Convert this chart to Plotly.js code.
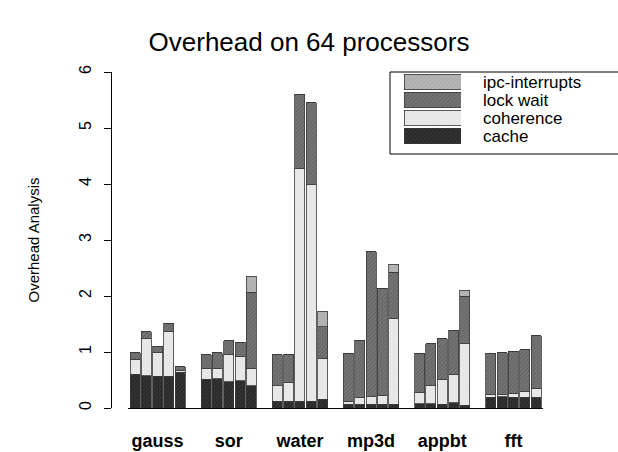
<!DOCTYPE html>
<html>
<head>
<meta charset="utf-8">
<script src="https://cdn.plot.ly/plotly-3.0.1.min.js"></script>
<style>html,body{margin:0;padding:0;background:#fff;}#chart{width:618px;height:452px;}</style>
</head>
<body>
<div id="chart"></div>
<script>
// Categories (benchmarks), 5 bars each
const groups = ["gauss", "sor", "water", "mp3d", "appbt", "fft"];
const barsPerGroup = 5;

// Segment heights per bar (6 groups x 5 bars), bottom to top
const cache = [
  0.60, 0.58, 0.57, 0.57, 0.64,
  0.51, 0.52, 0.47, 0.49, 0.40,
  0.12, 0.12, 0.12, 0.12, 0.16,
  0.07, 0.07, 0.07, 0.07, 0.07,
  0.08, 0.08, 0.07, 0.09, 0.05,
  0.19, 0.20, 0.19, 0.19, 0.19
];
const coherence = [
  0.275, 0.67, 0.42, 0.80, 0.03,
  0.20, 0.19, 0.49, 0.43, 0.31,
  0.28, 0.33, 4.16, 3.87, 0.73,
  0.05, 0.11, 0.13, 0.16, 1.53,
  0.20, 0.32, 0.44, 0.51, 1.10,
  0.05, 0.04, 0.07, 0.11, 0.16
];
const lockWait = [
  0.115, 0.11, 0.11, 0.14, 0.07,
  0.24, 0.28, 0.24, 0.25, 1.36,
  0.55, 0.51, 1.32, 1.46, 0.56,
  0.86, 1.03, 2.59, 1.91, 0.82,
  0.70, 0.75, 0.73, 0.79, 0.85,
  0.74, 0.75, 0.75, 0.74, 0.94
];
const ipcInterrupts = [
  0, 0, 0, 0, 0,
  0, 0, 0, 0, 0.28,
  0, 0, 0, 0, 0.28,
  0, 0, 0, 0, 0.15,
  0, 0, 0, 0, 0.10,
  0, 0, 0, 0, 0
];
const yTicks = [0, 1, 2, 3, 4, 5, 6];
const legendOrder = ["cache", "coherence", "lock wait", "ipc-interrupts"];

const groupPitch = 6.3;
const xPos = cache.map((_, k) => Math.floor(k / barsPerGroup) * groupPitch + (k % barsPerGroup));
const groupCenters = groups.map((_, g) => g * groupPitch + (barsPerGroup - 1) / 2);

const styles = {
  cache:     {bg: "#353535", fg: "#0d0d0d", sol: 0.35},
  coherence: {bg: "#e8e8e8", fg: "#dcdcdc", sol: 0.2},
  lock:      {bg: "#767676", fg: "#4c4c4c", sol: 0.35},
  ipc:       {bg: "#b8b8b8", fg: "#959595", sol: 0.35}
};
function mk(st) {
  return {
    color: st.bg,
    pattern: {shape: "/", bgcolor: st.bg, fgcolor: st.fg, size: 3, solidity: st.sol, fillmode: "overlay"},
    line: {color: "#3a3a3a", width: 0.8}
  };
}
const series = [
  {name: "cache", y: cache, st: styles.cache},
  {name: "coherence", y: coherence, st: styles.coherence},
  {name: "lock wait", y: lockWait, st: styles.lock},
  {name: "ipc-interrupts", y: ipcInterrupts, st: styles.ipc}
];

const traces = series.map(s => ({
  type: "bar", x: xPos, y: s.y, name: s.name, width: 0.885,
  marker: mk(s.st), showlegend: false, hoverinfo: "skip",
  xaxis: "x", yaxis: "y"
}));

// legend swatches drawn as an inset bar panel
series.forEach(s => {
  traces.push({
    type: "bar", orientation: "h", x: [1], y: [s.name], width: 0.88,
    marker: mk(s.st), showlegend: false, hoverinfo: "skip",
    xaxis: "x2", yaxis: "y2"
  });
});

const font = "Liberation Sans, Arial, Helvetica, sans-serif";
const layout = {
  width: 618, height: 452,
  paper_bgcolor: "#fff", plot_bgcolor: "rgba(0,0,0,0)",
  margin: {l: 111, r: 75, t: 72, b: 44, pad: 0},
  barmode: "stack",
  showlegend: false,
  font: {family: font, color: "#000"},
  title: {text: "Overhead on 64 processors", font: {size: 26, family: font, color: "#000"},
          x: 0.5, xref: "container", y: 1 - 42 / 452, yref: "container", yanchor: "middle", xanchor: "center"},
  xaxis: {
    domain: [17 / 432, 1], range: [-0.62, 36.12],
    showline: true, linecolor: "#000", linewidth: 1,
    showgrid: false, zeroline: false, ticks: "",
    tickmode: "array", tickvals: groupCenters, ticktext: groups,
    tickfont: {size: 18, family: font, weight: "bold", color: "#000"},
    ticklabelstandoff: 16
  },
  yaxis: {
    anchor: "free", position: 0, range: [0, 6],
    showline: true, linecolor: "#000", linewidth: 1,
    showgrid: false, zeroline: false,
    ticks: "outside", ticklen: 7, tickcolor: "#000", tickwidth: 1,
    tickmode: "array", tickvals: yTicks, ticktext: yTicks.map(String),
    tickangle: -90, tickfont: {size: 16, family: font, color: "#000"},
    ticklabelstandoff: 7,
    title: {text: "Overhead Analysis", font: {size: 15, family: "Liberation Sans Narrow, " + font, color: "#000"}, standoff: 32}
  },
  xaxis2: {domain: [(404 - 111) / 432, (461 - 111) / 432], range: [0, 1], visible: false, anchor: "y2", fixedrange: true},
  yaxis2: {
    domain: [(408 - 145) / 336, (408 - 73) / 336], anchor: "x2", side: "right",
    range: [-0.5, 3.5], showline: false, showgrid: false, zeroline: false, ticks: "",
    categoryorder: "array", categoryarray: legendOrder,
    tickmode: "array", tickvals: legendOrder, ticktext: legendOrder,
    tickfont: {size: 17, family: font, color: "#000"}, ticklabelstandoff: 21, fixedrange: true
  },
  shapes: [{
    type: "rect", xref: "paper", yref: "paper",
    x0: (390 - 111) / 432, x1: 1.3, y0: (408 - 154) / 336, y1: 1.0,
    line: {color: "#000", width: 1}, fillcolor: "rgba(0,0,0,0)", layer: "below"
  }]
};

Plotly.newPlot("chart", traces, layout, {displayModeBar: false, staticPlot: true});
</script>
</body>
</html>
